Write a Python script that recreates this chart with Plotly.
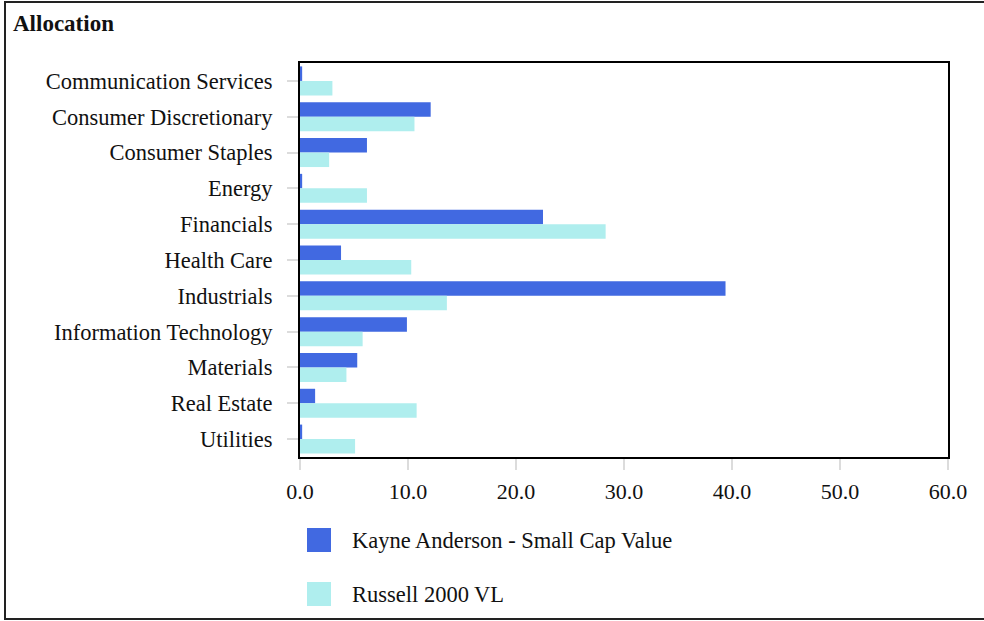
import plotly.graph_objects as go

categories = ["Communication Services", "Consumer Discretionary", "Consumer Staples", "Energy",
              "Financials", "Health Care", "Industrials", "Information Technology",
              "Materials", "Real Estate", "Utilities"]
kayne = [0.2, 12.1, 6.2, 0.2, 22.5, 3.8, 39.4, 9.9, 5.3, 1.4, 0.2]
russell = [3.0, 10.6, 2.7, 6.2, 28.3, 10.3, 13.6, 5.8, 4.3, 10.8, 5.1]
series_names = ["Kayne Anderson - Small Cap Value", "Russell 2000 VL"]
colors = ["#4169E1", "#AFEEEE"]
x_ticks = [0, 10, 20, 30, 40, 50, 60]
x_tick_text = ["0.0", "10.0", "20.0", "30.0", "40.0", "50.0", "60.0"]

W, H = 984, 621
L, R, T, B = 300, 36, 63, 164
PW, PH = W - L - R, H - T - B

def px(x):
    return (x - L) / PW

def py(y):
    return (H - B - y) / PH

FONT = "Liberation Serif"

fig = go.Figure()
for name, vals, col in zip(series_names, [kayne, russell], colors):
    fig.add_trace(go.Bar(y=categories, x=vals, name=name, orientation="h",
                         marker=dict(color=col, line=dict(width=0)), showlegend=False))

fig.update_layout(
    width=W, height=H,
    margin=dict(l=L, r=R, t=T, b=B),
    paper_bgcolor="white", plot_bgcolor="white",
    barmode="group", bargap=0.19, bargroupgap=0,
    font=dict(family=FONT, size=22, color="#111"),
)
fig.update_xaxes(range=[0, 60], tickvals=x_ticks, ticktext=x_tick_text,
                 showgrid=False, zeroline=False,
                 showline=True, linecolor="black", linewidth=2, mirror=True,
                 ticks="outside", ticklen=11, tickwidth=2, tickcolor="#dcdcdc",
                 ticklabelstandoff=3, tickfont=dict(size=22, family=FONT, color="#111"))
fig.update_yaxes(autorange="reversed", showgrid=False, zeroline=False,
                 showline=True, linecolor="black", linewidth=2, mirror=True,
                 ticks="outside", ticklen=11, tickwidth=2, tickcolor="#dcdcdc",
                 ticklabelstandoff=10, tickfont=dict(size=22.5, family=FONT, color="#111"))

shapes = [dict(type="rect", xref="paper", yref="paper",
               x0=px(5), x1=px(992), y0=py(619), y1=py(2),
               line=dict(color="#222", width=2), fillcolor="rgba(0,0,0,0)")]
annotations = [dict(text="<b>Allocation</b>", xref="paper", yref="paper",
                    x=px(11), y=py(24), xanchor="left", yanchor="middle",
                    showarrow=False, font=dict(family=FONT, size=23, color="#111"))]
legend_y = [540, 594]
for name, col, ly in zip(series_names, colors, legend_y):
    shapes.append(dict(type="rect", xref="paper", yref="paper",
                       x0=px(307), x1=px(331), y0=py(ly + 12), y1=py(ly - 12),
                       fillcolor=col, line=dict(width=0)))
    annotations.append(dict(text=name, xref="paper", yref="paper",
                            x=px(350), y=py(ly), xanchor="left", yanchor="middle",
                            showarrow=False, font=dict(family=FONT, size=22.5, color="#111")))
fig.update_layout(shapes=shapes, annotations=annotations)

fig.write_html("out.html", config={"displayModeBar": False},
               post_script="document.body.style.margin='0';document.body.style.overflow='hidden';")
